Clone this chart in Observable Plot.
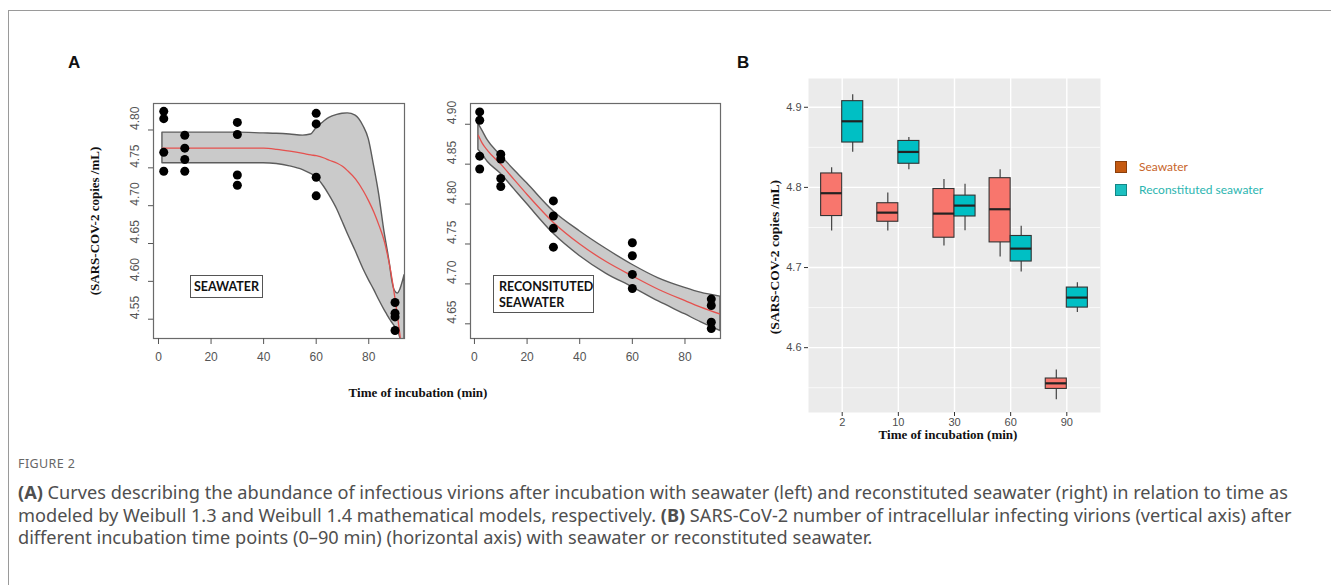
<!DOCTYPE html>
<html><head><meta charset="utf-8">
<script src="https://cdn.jsdelivr.net/npm/d3@7"></script>
<script src="https://cdn.jsdelivr.net/npm/@observablehq/plot@0.6"></script>
<style>
body{margin:0;width:1331px;height:585px;position:relative;overflow:hidden;background:#fff;font-family:"Liberation Sans",Arial,sans-serif}
.abs{position:absolute}
#pageframe{position:absolute;left:8px;top:10px;width:1340px;height:600px;border-top:1.5px solid #9a9a9a;border-left:1.5px solid #9a9a9a}
.panel{position:absolute;font-family:"Liberation Sans",Arial,sans-serif;font-weight:bold;font-size:17px;color:#111}
.ttl{position:absolute;font-family:"Liberation Serif","Times New Roman",serif;font-weight:bold;font-size:13px;color:#111;white-space:nowrap}
.rot{transform:translate(-50%,-50%) rotate(-90deg)}
.ctr{transform:translate(-50%,-50%)}
.lbox{position:absolute;border:1px solid #555;background:#fff;font-family:Lato,"Open Sans",sans-serif;font-weight:bold;font-size:12.5px;color:#111;box-sizing:border-box}
.leg{position:absolute;width:12px;height:12px;box-sizing:border-box}
.legt{position:absolute;font-family:Lato,sans-serif;font-size:12px;white-space:nowrap}
.cap{position:absolute;left:18px;font-family:"Noto Sans",sans-serif;color:#4f4f4f;white-space:nowrap;line-height:22px}
</style>
</head><body>
<div id="pageframe"></div>
<div class="panel" style="left:68px;top:53px">A</div>
<div class="panel" style="left:737px;top:53px">B</div>
<div class="ttl rot" style="left:95px;top:221px">(SARS-COV-2 copies /mL)</div>
<div class="ttl ctr" style="left:418px;top:393px">Time of incubation (min)</div>
<div class="ttl rot" style="left:775px;top:257px;font-size:13.5px">(SARS-COV-2 copies /mL)</div>
<div class="ttl ctr" style="left:948px;top:435px">Time of incubation (min)</div>
<div id="plots"></div>
<div class="lbox" style="left:190px;top:275px;width:73px;height:23px;line-height:21px;text-align:center">SEAWATER</div>
<div class="lbox" style="left:493px;top:275px;width:101px;height:38px;line-height:16px;padding:3px 0 0 5px">RECONSITUTED<br>SEAWATER</div>
<div id="legend"></div>
<div class="cap" id="fig" style="top:453px;font-size:12.5px;color:#666;letter-spacing:0.4px">FIGURE 2</div>
<div class="cap capl" style="top:481px"><b>(A)</b> Curves describing the abundance of infectious virions after incubation with seawater (left) and reconstituted seawater (right) in relation to time as</div>
<div class="cap capl" style="top:503.5px">modeled by Weibull 1.3 and Weibull 1.4 mathematical models, respectively. <b>(B)</b> SARS-CoV-2 number of intracellular infecting virions (vertical axis) after</div>
<div class="cap capl" style="top:526px">different incubation time points (0–90 min) (horizontal axis) with seawater or reconstituted seawater.</div>
<script>
// ---------- data ----------
const times = [2, 10, 30, 60, 90];
const timeLabels = ["2", "10", "30", "60", "90"];
const groups = ["Seawater", "Reconstituted seawater"];
const groupColors = ["#F8766D", "#00BFC4"];
const legendColors = ["#C55A11", "#1CC0C0"];
const legendTextColors = ["#C8642A", "#2BB5B0"];

// replicate measurements (log SARS-CoV-2 copies / mL)
const seawaterValues = [
  [4.8246, 4.815, 4.7705, 4.7455],
  [4.793, 4.776, 4.761, 4.7455],
  [4.810, 4.794, 4.7406, 4.727],
  [4.822, 4.808, 4.7375, 4.713],
  [4.572, 4.558, 4.553, 4.535]
];
const reconstitutedValues = [
  [4.9155, 4.905, 4.860, 4.844],
  [4.8624, 4.8565, 4.832, 4.822],
  [4.804, 4.785, 4.7696, 4.746],
  [4.7516, 4.7353, 4.7119, 4.6943],
  [4.681, 4.673, 4.652, 4.644]
];

// Weibull 1.3 fit (seawater) with confidence band
const seaCurveT =   [1.5, 10, 20, 30, 40, 45, 50, 55, 58, 60, 63, 65, 68, 70, 72, 75, 78, 80, 82, 84, 86, 87, 88, 89, 90, 91, 92, 93, 93.6];
const seaFit =      [4.776, 4.776, 4.776, 4.776, 4.776, 4.7745, 4.772, 4.769, 4.767, 4.766, 4.763, 4.760, 4.756, 4.752, 4.746, 4.735, 4.719, 4.706, 4.691, 4.673, 4.652, 4.637, 4.620, 4.600, 4.577, 4.552, 4.525, 4.49, 4.47];
const seaUpper =    [4.7965, 4.7965, 4.7965, 4.7965, 4.7955, 4.795, 4.794, 4.7925, 4.794, 4.802, 4.811, 4.816, 4.820, 4.8215, 4.822, 4.819, 4.805, 4.788, 4.753, 4.714, 4.665, 4.645, 4.624, 4.600, 4.587, 4.584, 4.589, 4.600, 4.608];
const seaLower =    [4.756, 4.756, 4.756, 4.756, 4.756, 4.755, 4.752, 4.747, 4.742, 4.738, 4.725, 4.714, 4.695, 4.679, 4.663, 4.640, 4.616, 4.602, 4.589, 4.575, 4.562, 4.556, 4.550, 4.545, 4.540, 4.535, 4.525, 4.51, 4.50];

// Weibull 1.4 fit (reconstituted seawater) with confidence band
const recCurveT =   [1.5, 3, 5, 10, 15, 20, 30, 40, 50, 60, 70, 80, 86, 93.5];
const recFit =      [4.886, 4.876, 4.867, 4.850, 4.831, 4.812, 4.777, 4.750, 4.728, 4.710, 4.693, 4.679, 4.671, 4.662];
const recUpper =    [4.901, 4.892, 4.880, 4.861, 4.843, 4.826, 4.791, 4.766, 4.744, 4.724, 4.707, 4.695, 4.689, 4.684];
const recLower =    [4.868, 4.862, 4.853, 4.838, 4.819, 4.800, 4.763, 4.735, 4.713, 4.696, 4.678, 4.662, 4.652, 4.641];

const xTicksA = [0, 20, 40, 60, 80];
const yTicksSea = [4.55, 4.60, 4.65, 4.70, 4.75, 4.80];
const yTicksRec = [4.65, 4.70, 4.75, 4.80, 4.85, 4.90];
const yTicksB = [4.6, 4.7, 4.8, 4.9];
const yMinorB = [4.55, 4.65, 4.75, 4.85];

// ---------- tables ----------
const toPoints = vals => times.flatMap((t, i) => vals[i].map(v => ({t, v})));
const toCurve = (T, fit, lo, hi) => T.map((t, i) => ({t, fit: fit[i], lo: lo[i], hi: hi[i]}));
const seaPts = toPoints(seawaterValues), recPts = toPoints(reconstitutedValues);
const seaCurve = toCurve(seaCurveT, seaFit, seaLower, seaUpper);
const recCurve = toCurve(recCurveT, recFit, recLower, recUpper);

function stats(vals) {
  const s = vals.slice().sort(d3.ascending);
  return {min: s[0], q1: d3.quantile(s, 0.25), med: d3.quantile(s, 0.5), q3: d3.quantile(s, 0.75), max: s[s.length - 1]};
}
const dodge = 0.375;
const boxes = times.flatMap((t, i) => [
  {group: groups[0], x1: i + 1 - dodge, x2: i + 1, xc: i + 1 - dodge / 2, ...stats(seawaterValues[i])},
  {group: groups[1], x1: i + 1, x2: i + 1 + dodge, xc: i + 1 + dodge / 2, ...stats(reconstitutedValues[i])}
]);

// ---------- panel A ----------
function panelA(pts, curve, domainX, domainY, yTicks, w, mL, mR) {
  return Plot.plot({
    width: w, height: 290, marginLeft: mL, marginRight: mR, marginTop: 13, marginBottom: 42,
    x: {domain: domainX}, y: {domain: domainY},
    style: {fontFamily: "Liberation Sans, Arial, sans-serif", fontSize: "12px", color: "#555", background: "transparent"},
    marks: [
      Plot.areaY(curve, {x: "t", y1: "lo", y2: "hi", curve: "monotone-x", fill: "#cacaca", stroke: "#5c5c5c", strokeWidth: 1.4, clip: true}),
      Plot.lineY(curve, {x: "t", y: "fit", curve: "monotone-x", stroke: "#e5514e", strokeWidth: 1.3, clip: true}),
      Plot.dot(pts, {x: "t", y: "v", r: 4.5, fill: "#000"}),
      Plot.frame({stroke: "#6a6a6a", strokeWidth: 1.2}),
      Plot.axisX({ticks: xTicksA, tickSize: 6, tickPadding: 8, label: null, fill: "#555"}),
      Plot.axisY({ticks: yTicks, tickSize: 5, tickFormat: () => "", label: null}),
      Plot.text(yTicks, {y: d => d, frameAnchor: "left", dx: -18, rotate: -90, text: d => d.toFixed(2), fill: "#555", fontSize: 12})
    ]
  });
}
const a1 = panelA(seaPts, seaCurve, [-1.9, 93.6], [4.5245, 4.835], yTicksSea, 320, 53, 16);
const a2 = panelA(recPts, recCurve, [-1.5, 93.5], [4.6316, 4.926], yTicksRec, 310, 50, 10);

// ---------- panel B ----------
const b = Plot.plot({
  width: 360, height: 380, marginLeft: 58, marginRight: 10, marginTop: 8, marginBottom: 38,
  x: {domain: [0.4, 5.6]},
  y: {domain: [4.5191, 4.9359]},
  color: {domain: groups, range: groupColors},
  style: {fontFamily: "Liberation Sans, Arial, sans-serif", fontSize: "11px", color: "#4d4d4d", background: "transparent"},
  marks: [
    Plot.frame({fill: "#ebebeb"}),
    Plot.ruleY(yMinorB, {stroke: "#fff", strokeWidth: 0.7}),
    Plot.ruleY(yTicksB, {stroke: "#fff", strokeWidth: 1.4}),
    Plot.ruleX(times.map((t, i) => i + 1), {stroke: "#fff", strokeWidth: 1.4}),
    Plot.ruleX(boxes, {x: "xc", y1: "min", y2: "max", stroke: "#333", strokeWidth: 1.1}),
    Plot.rect(boxes, {x1: "x1", x2: "x2", y1: "q1", y2: "q3", fill: "group", stroke: "#333", strokeWidth: 1.1}),
    Plot.ruleY(boxes, {x1: "x1", x2: "x2", y: "med", stroke: "#222", strokeWidth: 2.2}),
    Plot.axisY({ticks: yTicksB, tickSize: 4, tickPadding: 3, tickFormat: d3.format(".1f"), label: null, stroke: "#333"}),
    Plot.axisX({ticks: times.map((t, i) => i + 1), tickSize: 4, tickPadding: 2, tickFormat: i => timeLabels[i - 1], label: null, stroke: "#333"})
  ]
});

const holder = document.getElementById("plots");
[[a1, 100, 90], [a2, 420, 90], [b, 750, 70]].forEach(([svg, l, t]) => {
  svg.style.position = "absolute"; svg.style.left = l + "px"; svg.style.top = t + "px";
  holder.appendChild(svg);
});

// ---------- legend ----------
const leg = document.getElementById("legend");
groups.forEach((g, i) => {
  const top = 161 + i * 22.5;
  const sq = document.createElement("div");
  sq.className = "leg";
  sq.style.cssText = `left:1115px;top:${top}px;background:${legendColors[i]};border:1px solid ${d3.color(legendColors[i]).darker(1)}`;
  leg.appendChild(sq);
  const tx = document.createElement("div");
  tx.className = "legt";
  tx.style.cssText = `left:1139px;top:${top - 2}px;color:${legendTextColors[i]}`;
  tx.textContent = g;
  leg.appendChild(tx);
});

// ---------- caption: fit font so first line spans the reference width ----------
const lines = document.querySelectorAll(".capl");
lines.forEach(l => l.style.fontSize = "15px");
const w1 = lines[0].getBoundingClientRect().width;
const fs = 15 * 1271 / w1;
lines.forEach(l => l.style.fontSize = fs + "px");
</script>
</body></html>
